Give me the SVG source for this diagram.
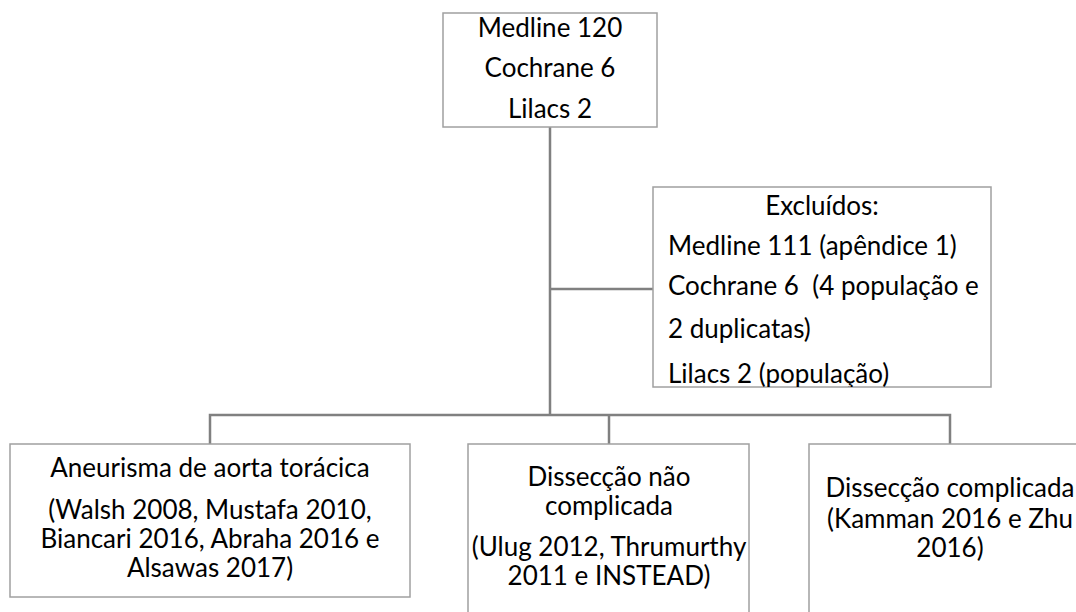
<svg xmlns="http://www.w3.org/2000/svg" width="1076" height="612" viewBox="0 0 1076 612">
<style>
.box{fill:#ffffff;stroke:#a0a0a0;stroke-width:1.5}
.con{fill:none;stroke:#808080;stroke-width:2.5}
text{font-family:Lato,"Liberation Sans",sans-serif;font-size:26px;fill:#000}
.c{text-anchor:middle}
</style>
<defs>
<clipPath id="clipExc"><rect x="653" y="187" width="338" height="200"/></clipPath>
</defs>
<rect width="1076" height="612" fill="#ffffff"/>
<g id="connectors">
<path class="con" d="M550 127V415"/>
<path class="con" d="M550 289H653"/>
<path class="con" d="M210 444V415H950V444"/>
<path class="con" d="M609 415V444"/>
</g>
<g id="sources">
<rect class="box" x="443" y="13" width="214" height="114"/>
<text class="c" x="550" y="37">Medline 120</text>
<text class="c" x="550" y="77">Cochrane 6</text>
<text class="c" x="550" y="118">Lilacs 2</text>
</g>
<g id="excluded">
<rect class="box" x="653" y="187" width="338" height="200"/>
<g clip-path="url(#clipExc)">
<text class="c" x="822" y="215">Excluídos:</text>
<text x="668" y="255">Medline 111 (apêndice 1)</text>
<text x="668" y="295" xml:space="preserve">Cochrane 6  (4 população e</text>
<text x="668" y="338">2 duplicatas)</text>
<text x="668" y="383">Lilacs 2 (população)</text>
</g>
</g>
<g id="aneurisma">
<rect class="box" x="10" y="444" width="400" height="153"/>
<text class="c" x="210" y="477">Aneurisma de aorta torácica</text>
<text class="c" x="210" y="519">(Walsh 2008, Mustafa 2010,</text>
<text class="c" x="210" y="548">Biancari 2016, Abraha 2016 e</text>
<text class="c" x="210" y="577">Alsawas 2017)</text>
</g>
<g id="nao-complicada">
<rect class="box" x="468" y="444" width="281" height="190"/>
<text class="c" x="609" y="486">Dissecção não</text>
<text class="c" x="609" y="515">complicada</text>
<text class="c" x="609" y="556">(Ulug 2012, Thrumurthy</text>
<text class="c" x="609" y="585">2011 e INSTEAD)</text>
</g>
<g id="complicada">
<rect class="box" x="809" y="444" width="300" height="190"/>
<text class="c" x="950" y="497">Dissecção complicada</text>
<text class="c" x="950" y="528">(Kamman 2016 e Zhu</text>
<text class="c" x="950" y="557">2016)</text>
</g>
</svg>
